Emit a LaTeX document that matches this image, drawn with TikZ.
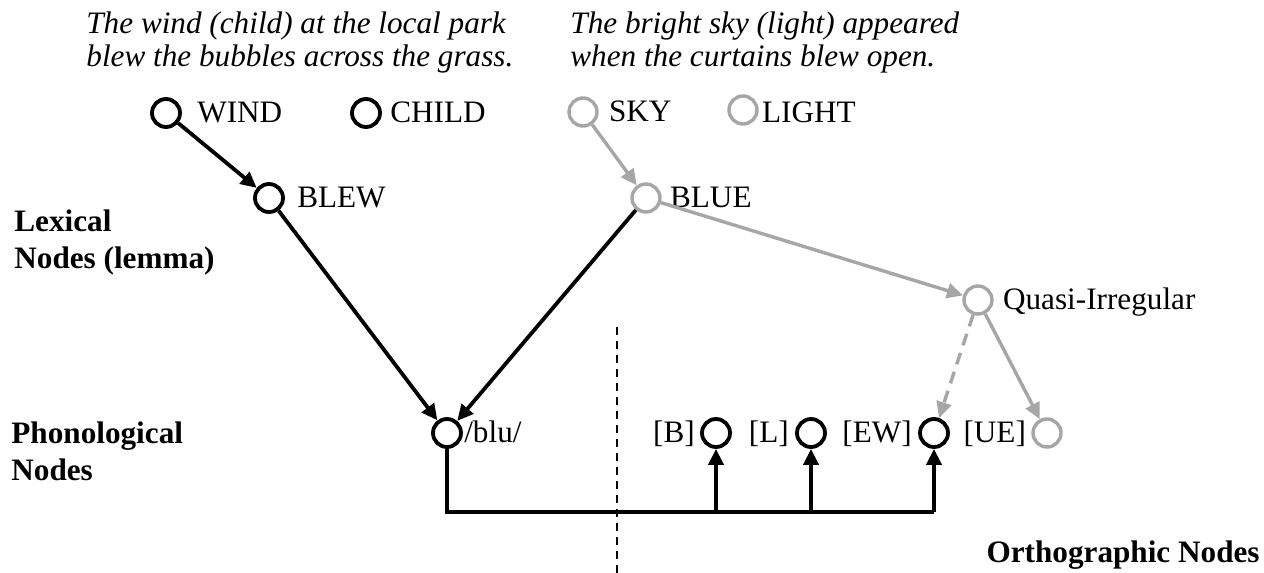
\documentclass[tikz,border=0pt]{standalone}
\usepackage{fontspec}
\setmainfont{Liberation Serif}
\usepackage{xcolor}
\usetikzlibrary{positioning,arrows.meta}
\definecolor{nodegray}{RGB}{166,166,166}

\begin{document}
\begin{tikzpicture}[x=0.5pt,y=-0.5pt,
	bnode/.style={circle,draw,line width=1.9pt,minimum size=14pt,inner sep=0pt},
	gnode/.style={bnode,draw=nodegray,line width=1.7pt},
	lbl/.style={inner sep=0pt,text height=0.66em,text depth=0pt,yshift=-1.5pt,font=\fontsize{15.6}{18}\selectfont},
	sentence/.style={anchor=north west,align=left,inner sep=0pt,font=\fontsize{15.6}{16.5}\selectfont\itshape},
	level/.style={anchor=north west,align=left,inner sep=0pt,font=\fontsize{15.6}{18.5}\selectfont\bfseries},
	barrow/.style={line width=1.9pt,-{Triangle[length=8pt,width=7.5pt]}},
	garrow/.style={barrow,color=nodegray,line width=1.7pt}]
	\useasboundingbox (0,0) rectangle (1264,573);
	
	\node[sentence] (sent1) at (86,11) {The wind (child) at the local park\\blew the bubbles across the grass.};
	\node[sentence] (sent2) at (570,11) {The bright sky (light) appeared\\when the curtains blew open.};
	\node[level] (lexical) at (14,209) {Lexical\\Nodes (lemma)};
	\node[level] (phono) at (11,421) {Phonological\\Nodes};
	\node[level,anchor=base east] (ortho) at (1260,562) {Orthographic Nodes};
	
	\node[bnode] (wind) at (166,113) {};
	\node[bnode] (child) at (366,113) {};
	\node[gnode] (sky) at (583,112) {};
	\node[gnode] (light) at (743,110) {};
	\node[bnode] (blew) at (269,198) {};
	\node[gnode] (blue) at (646,198) {};
	\node[gnode] (quasi) at (978,300) {};
	\node[bnode] (blu) at (447,433) {};
	\node[bnode] (B) at (716,433) {};
	\node[bnode] (L) at (811,433) {};
	\node[bnode] (EW) at (934,433) {};
	\node[gnode] (UE) at (1047,433) {};
	
	\node[lbl,right=7.5pt of wind] (windlbl) {WIND};
	\node[lbl,right=4pt of child] (childlbl) {CHILD};
	\node[lbl,right=5pt of sky] (skylbl) {SKY};
	\node[lbl,right=1.5pt of light,yshift=-1.5pt] (lightlbl) {LIGHT};
	\node[lbl,right=6pt of blew] (blewlbl) {BLEW};
	\node[lbl,right=4pt of blue] (bluelbl) {BLUE};
	\node[lbl,right=4.5pt of quasi] (quasilbl) {Quasi-Irregular};
	\node[lbl,right=0.5pt of blu] (blulbl) {/blu/};
	\node[lbl,left=2.5pt of B] (Blbl) {[B]};
	\node[lbl,left=3pt of L] (Llbl) {[L]};
	\node[lbl,left=3pt of EW] (EWlbl) {[EW]};
	\node[lbl,left=2.5pt of UE] (UElbl) {[UE]};
	
	\draw[barrow] (wind) -- (blew);
	\draw[barrow] (blew) -- (blu);
	\draw[barrow] (blue) -- (blu);
	\draw[garrow] (sky) -- (blue);
	\draw[garrow] (blue) -- (quasi);
	\draw[garrow,dash pattern=on 6pt off 4pt] (quasi) -- (EW);
	\draw[garrow] (quasi) -- (UE);
	
	\coordinate (busy) at (0,512);
	\draw[line width=1.9pt] (blu) -- (blu |- busy) -- (EW |- busy);
	\foreach \n in {B,L,EW}
		\draw[barrow] (\n |- busy) -- (\n);
	
	\coordinate (divtop) at (617,327);
	\coordinate (divbot) at (617,573);
	\draw[line width=1pt,dash pattern=on 4pt off 3pt] (divtop) -- (divbot);
\end{tikzpicture}
\end{document}
